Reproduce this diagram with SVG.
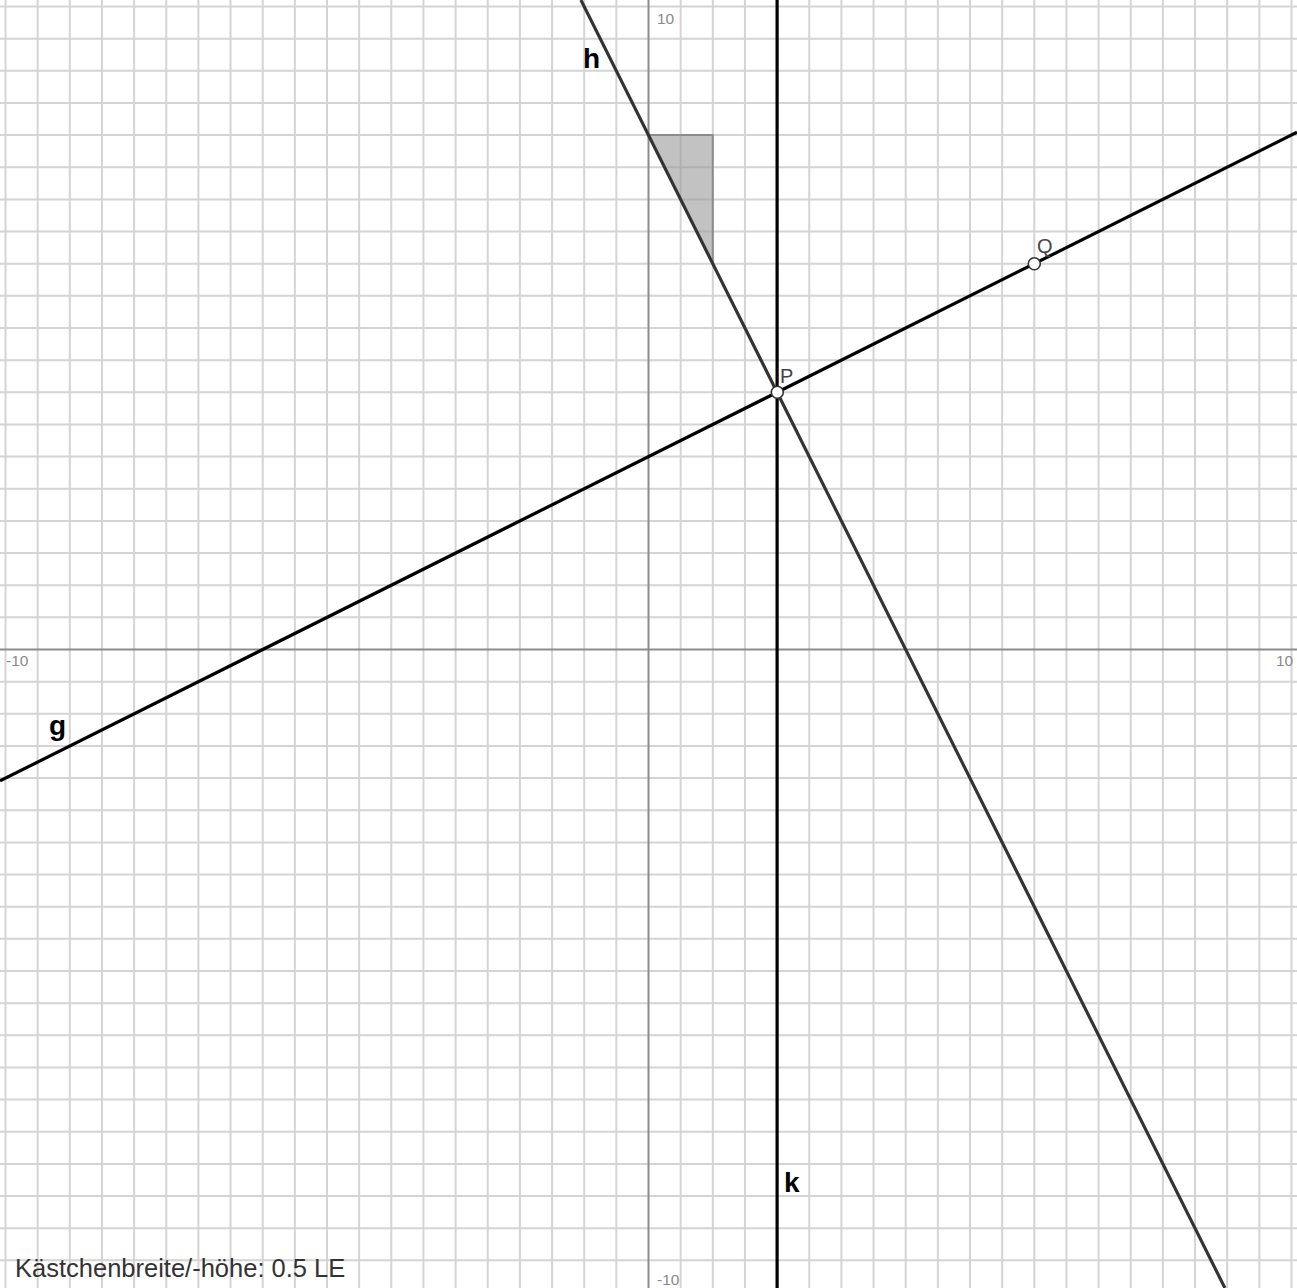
<svg xmlns="http://www.w3.org/2000/svg" width="1297" height="1288" viewBox="0 0 1297 1288">
<style>
.grid{stroke:#d4d4d4;stroke-width:2;fill:none}
.axis{stroke:#8c8c8c;stroke-width:2;fill:none}
.ln{stroke-width:3.2;fill:none;stroke-linecap:butt}
.tick{font-family:"Liberation Sans",Arial,sans-serif;font-size:15.5px;fill:#8a8a8a}
.lbl{font-family:"Liberation Sans",Arial,sans-serif;font-size:28px;font-weight:bold;fill:#000}
.pl{font-family:"Liberation Sans",Arial,sans-serif;font-size:20px;fill:#444}
.pt{fill:#fff;stroke:#333;stroke-width:1.6}
</style>
<rect width="1297" height="1288" fill="#fff"/>
<g id="grid">
<path class="grid" d="M5.5 0V1288M37.65 0V1288M69.8 0V1288M101.95 0V1288M134.1 0V1288M166.25 0V1288M198.4 0V1288M230.55 0V1288M262.7 0V1288M294.85 0V1288M327 0V1288M359.15 0V1288M391.3 0V1288M423.45 0V1288M455.6 0V1288M487.75 0V1288M519.9 0V1288M552.05 0V1288M584.2 0V1288M616.35 0V1288M680.65 0V1288M712.8 0V1288M744.95 0V1288M777.1 0V1288M809.25 0V1288M841.4 0V1288M873.55 0V1288M905.7 0V1288M937.85 0V1288M970 0V1288M1002.15 0V1288M1034.3 0V1288M1066.45 0V1288M1098.6 0V1288M1130.75 0V1288M1162.9 0V1288M1195.05 0V1288M1227.2 0V1288M1259.35 0V1288M1291.5 0V1288"/>
<path class="grid" d="M0 6.5H1297M0 38.65H1297M0 70.8H1297M0 102.95H1297M0 135.1H1297M0 167.25H1297M0 199.4H1297M0 231.55H1297M0 263.7H1297M0 295.85H1297M0 328H1297M0 360.15H1297M0 392.3H1297M0 424.45H1297M0 456.6H1297M0 488.75H1297M0 520.9H1297M0 553.05H1297M0 585.2H1297M0 617.35H1297M0 681.65H1297M0 713.8H1297M0 745.95H1297M0 778.1H1297M0 810.25H1297M0 842.4H1297M0 874.55H1297M0 906.7H1297M0 938.85H1297M0 971H1297M0 1003.15H1297M0 1035.3H1297M0 1067.45H1297M0 1099.6H1297M0 1131.75H1297M0 1163.9H1297M0 1196.05H1297M0 1228.2H1297M0 1260.35H1297"/>
</g>
<g id="axes">
<path class="axis" d="M0 649.5H1297M648.5 0V1288"/>
<text class="tick" x="657" y="24">10</text>
<text class="tick" x="657" y="1285">-10</text>
<text class="tick" x="6" y="666">-10</text>
<text class="tick" x="1276" y="666">10</text>
</g>
<g id="triangle">
<polygon points="648.5,135.1 712.8,135.1 712.8,263.7" fill="#999" fill-opacity="0.6" stroke="#8c8c8c" stroke-width="2"/>
</g>
<g id="connectors">
<line id="g" class="ln" x1="0" y1="780.9" x2="1297" y2="132.3" stroke="#000"/>
<line id="h" class="ln" x1="580.9" y1="0" x2="1224.9" y2="1288" stroke="#333"/>
<line id="k" class="ln" x1="777.1" y1="0" x2="777.1" y2="1288" stroke="#000"/>
</g>
<g id="labels">
<text class="lbl" x="583" y="68">h</text>
<text class="lbl" x="49" y="735">g</text>
<text class="lbl" x="784" y="1192">k</text>
</g>
<g id="P">
<circle class="pt" cx="777.3" cy="392.3" r="6"/>
<text class="pl" x="780" y="383">P</text>
</g>
<g id="Q">
<circle class="pt" cx="1034.3" cy="263.7" r="6"/>
<text class="pl" x="1037" y="253">Q</text>
</g>
<text x="15" y="1277" font-family="'Liberation Sans',Arial,sans-serif" font-size="25.5" fill="#333">Kästchenbreite/-höhe: 0.5 LE</text>
</svg>
